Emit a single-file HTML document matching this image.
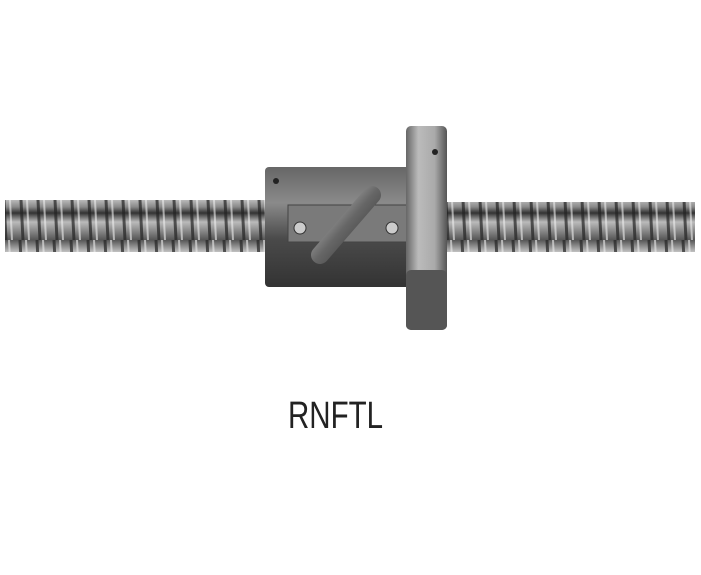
<!DOCTYPE html>
<html><head><style>
html,body{margin:0;padding:0;background:#fff;}
</style></head><body>
<svg width="701" height="570" xmlns="http://www.w3.org/2000/svg">
<defs>
<linearGradient id="shaft" x1="0" y1="0" x2="0" y2="1">
<stop offset="0" stop-color="#555"/><stop offset="0.25" stop-color="#ddd"/><stop offset="0.45" stop-color="#888"/><stop offset="0.55" stop-color="#333"/><stop offset="0.7" stop-color="#bbb"/><stop offset="1" stop-color="#555"/>
</linearGradient>
<pattern id="thr" x="0" y="0" width="17" height="60" patternUnits="userSpaceOnUse">
<rect width="17" height="60" fill="url(#shaft)"/>
<path d="M3 0 L6 60" stroke="#222" stroke-width="3" opacity="0.7"/>
<path d="M9 0 L12 60" stroke="#eee" stroke-width="2" opacity="0.6"/>
</pattern>
<linearGradient id="body" x1="0" y1="0" x2="0" y2="1">
<stop offset="0" stop-color="#666"/><stop offset="0.3" stop-color="#8a8a8a"/><stop offset="0.6" stop-color="#4a4a4a"/><stop offset="1" stop-color="#333"/>
</linearGradient>
<linearGradient id="fl" x1="0" y1="0" x2="1" y2="0">
<stop offset="0" stop-color="#666"/><stop offset="0.3" stop-color="#bbb"/><stop offset="0.7" stop-color="#aaa"/><stop offset="1" stop-color="#555"/>
</linearGradient>
<linearGradient id="tube" x1="0" y1="0" x2="1" y2="1">
<stop offset="0" stop-color="#ccc"/><stop offset="0.5" stop-color="#666"/><stop offset="1" stop-color="#333"/>
</linearGradient>
</defs>
<rect x="5" y="200" width="262" height="52" fill="url(#thr)"/>
<rect x="445" y="202" width="250" height="50" fill="url(#thr)"/>
<rect x="265" y="167" width="145" height="120" rx="4" fill="url(#body)"/>
<rect x="288" y="205" width="120" height="37" fill="#7a7a7a" stroke="#444"/>
<circle cx="300" cy="228" r="6" fill="#ccc" stroke="#333"/>
<circle cx="392" cy="228" r="6" fill="#ccc" stroke="#333"/>
<path d="M320 255 L372 195" stroke="url(#tube)" stroke-width="18" stroke-linecap="round"/>
<circle cx="276" cy="181" r="3" fill="#222"/>
<rect x="406" y="126" width="41" height="204" rx="5" fill="url(#fl)"/>
<rect x="406" y="270" width="41" height="60" rx="5" fill="#555"/>
<circle cx="435" cy="152" r="3" fill="#222"/>
<text x="288" y="428" font-family="'Liberation Sans', sans-serif" font-size="38" textLength="95" lengthAdjust="spacingAndGlyphs" fill="#222">RNFTL</text>
</svg>
</body></html>
